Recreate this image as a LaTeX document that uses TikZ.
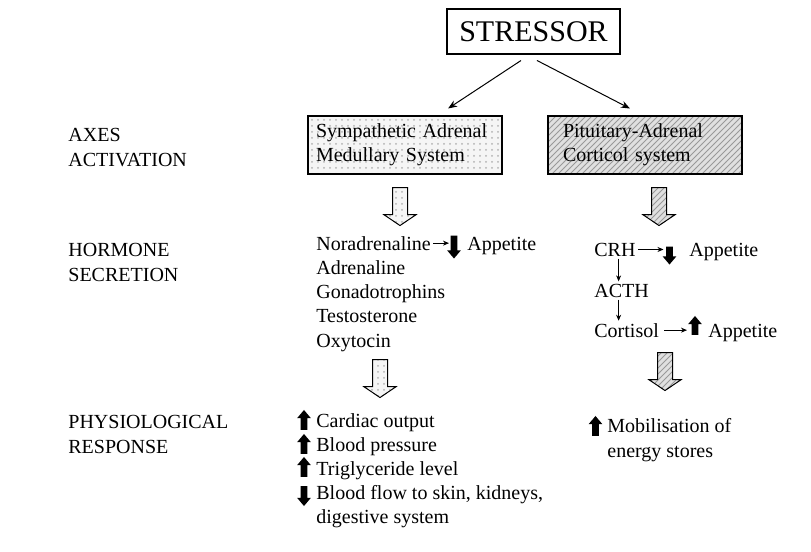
\documentclass[tikz,border=0pt]{standalone}
\usepackage{fontspec}
\setmainfont{Liberation Serif}
\usetikzlibrary{arrows.meta,shapes.arrows,patterns,positioning}
\tikzset{>={Stealth[length=4.5pt,width=3.5pt]}}
\tikzset{every node/.style={font=\fontsize{10}{12.15}\selectfont}}
% multi-line labels sit on the baseline of their last line
\tikzset{lbl/.style={anchor=base west, align=left, inner sep=1pt}}
\tikzset{axisbox/.style={draw, line width=.6pt, align=left, minimum height=29pt}}
\tikzset{samfill/.style={preaction={fill=black!4}, pattern=dots, pattern color=black!30}}
\tikzset{pacfill/.style={preaction={fill=black!12}, pattern=north east lines, pattern color=black!40}}
\tikzset{blockarrow/.style={single arrow, draw, line width=.5pt, rotate=-90,
    minimum height=19pt, inner xsep=0pt, inner ysep=3.5pt, single arrow head extend=4.25pt,
    single arrow tip angle=112}}
\tikzset{thickup/.style={single arrow, draw=none, fill=black, rotate=90,
    minimum height=10pt, inner xsep=0pt, inner ysep=1.5pt, single arrow head extend=1.75pt,
    single arrow tip angle=80}}
\tikzset{thickdown/.style={thickup, rotate=180}}
\tikzset{thinarrow/.style={->, >={Stealth[length=3pt,width=2.5pt]}, line width=.4pt}}

\begin{document}
\begin{tikzpicture}[x=0.5pt, y=-0.5pt]
    \useasboundingbox (0,0) rectangle (811,552);

    %%%% Row labels
    \node(axes) [lbl] at (66,166) {AXES\\ACTIVATION};
    \node(hormone) [lbl] at (66,281) {HORMONE\\SECRETION};
    \node(physio) [lbl] at (66,453) {PHYSIOLOGICAL\\RESPONSE};

    %%%% Stressor and axes
    \node(stressor) [draw, line width=.6pt, font=\fontsize{15}{18}\selectfont,
        minimum width=86.5pt, minimum height=22.5pt, inner sep=0pt] at (533.5,31.5) {STRESSOR};
    \node(sam) [axisbox, samfill, text width=89pt, inner xsep=4pt] at (405,145)
        {Sympathetic Adrenal\\Medullary System};
    \node(pac) [axisbox, pacfill, text width=82pt, inner xsep=7.5pt] at (645,145)
        {Pituitary-Adrenal\\Corticol system};

    \draw [->, line width=.5pt, shorten <=5.4pt, shorten >=6.3pt] ([xshift=-1.75pt]stressor.south) to ([xshift=16.3pt]sam.north);
    \draw [->, line width=.5pt, shorten <=6.4pt, shorten >=7.5pt] ([xshift=-3.95pt]stressor.south) to ([xshift=-0.85pt]pac.north);

    %%%% Block arrows
    \node(sam1) [blockarrow, samfill] at (400,204) {};
    \node(pac1) [blockarrow, pacfill] at (659,204) {};
    \node(sam2) [blockarrow, samfill] at (380,376) {};
    \node(pac2) [blockarrow, pacfill] at (665,369) {};

    %%%% Left hormones
    \node(nor) [lbl] at (314,250) {Noradrenaline};
    \node(hormones) [lbl] at (314,347) {Adrenaline\\Gonadotrophins\\Testosterone\\Oxytocin};
    \node(down1) [thickdown, minimum height=11.5pt] at (454,245) {};
    \node(app1) [lbl] at (465,250) {Appetite};
    \draw [thinarrow, shorten >=2.5pt] (nor.east) to (nor.east -| down1.west);

    %%%% Right hormones
    \node(crh) [lbl] at (592,256) {CRH};
    \node(down2) [thickdown, minimum height=9pt] at (669.5,253.5) {};
    \node(app2) [lbl] at (687,256) {Appetite};
    \node(acth) [lbl] at (592,297) {ACTH};
    \node(cort) [lbl] at (592,337) {Cortisol};
    \node(up1) [thickup, minimum height=9.5pt] at (695,327.5) {};
    \node(app3) [lbl] at (706,337) {Appetite};
    \draw [thinarrow, shorten >=3pt] (crh.east) to (crh.east -| down2.west);
    \draw [thinarrow, shorten <=1.5pt, shorten >=4pt] (cort.east) to (cort.east -| up1.west);
    \draw [thinarrow] ([xshift=-1.5pt]acth.north |- crh.south) to ([xshift=-1.5pt]acth.north);
    \draw [thinarrow] ([xshift=-1.5pt]acth.south) to ([xshift=-1.5pt]acth.south |- cort.north);

    %%%% Responses
    \node(resp) [lbl, font=\fontsize{10}{11.9}\selectfont] at (314,523)
        {Cardiac output\\Blood pressure\\Triglyceride level\\Blood flow to skin, kidneys,\\digestive system};
    \foreach \y/\dir in {422/thickup, 446/thickup, 469/thickup, 494/thickdown}
        \node(resp\y) [\dir] at (304,\y) {};
    \node(mob) [lbl] at (605,457) {Mobilisation of\\energy stores};
    \node(upmob) [thickup] at (595.5,428) {};

\end{tikzpicture}
\end{document}
